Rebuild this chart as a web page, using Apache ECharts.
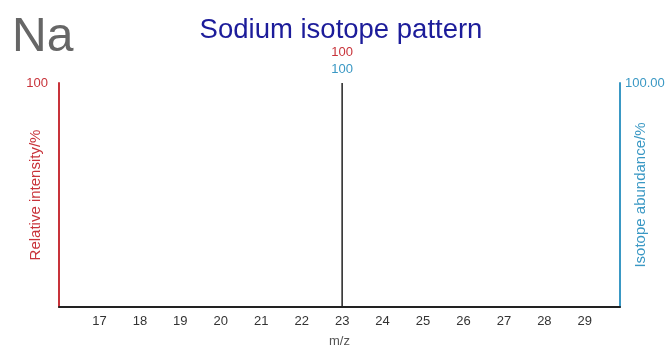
<!DOCTYPE html>
<html>
<head>
<meta charset="utf-8">
<script src="https://cdn.jsdelivr.net/npm/echarts@6/dist/echarts.min.js"></script>
<style>
  html, body { margin: 0; padding: 0; background: #fff; }
  #chart { width: 672px; height: 347px; }
</style>
</head>
<body>
<div id="chart"></div>
<script>
// Sodium: a single stable isotope, 23Na
const massNumbers = [23];
const relativeIntensity = [100];
const isotopeAbundance = [100.00];
const xTickLabels = [17, 18, 19, 20, 21, 22, 23, 24, 25, 26, 27, 28, 29];

const RED = '#c8333a';
const BLUE = '#3a98c4';
const FONT = '"Liberation Sans", Arial, sans-serif';

const peakData = massNumbers.map((m, i) => ({
  value: [m, relativeIntensity[i]],
  abundance: isotopeAbundance[i]
}));

const chart = echarts.init(document.getElementById('chart'));
chart.setOption({
  animation: false,
  textStyle: { fontFamily: FONT },
  graphic: [{
    type: 'text',
    left: 12,
    top: 14,
    style: { text: 'Na', fontSize: 48, fill: '#666666', fontFamily: FONT }
  }, {
    type: 'text',
    x: 341,
    y: 16,
    style: {
      text: 'Sodium isotope pattern',
      fontSize: 27.5,
      fill: '#1c1c9a',
      fontFamily: FONT,
      align: 'center',
      verticalAlign: 'top'
    }
  }],
  grid: { left: 59, right: 52, top: 83, bottom: 40, outerBoundsMode: 'none', containLabel: false },
  xAxis: {
    type: 'value',
    min: 16,
    max: 29.87,
    interval: 1,
    name: 'm/z',
    nameLocation: 'middle',
    nameGap: 28,
    nameMoveOverlap: false,
    nameTextStyle: { color: '#555', fontSize: 13 },
    axisLine: { lineStyle: { color: '#222', width: 2 } },
    axisTick: { show: false },
    splitLine: { show: false },
    axisLabel: {
      color: '#333',
      fontSize: 13,
      margin: 8,
      formatter: v => (xTickLabels.indexOf(v) >= 0 ? String(v) : '')
    }
  },
  yAxis: [{
    type: 'value',
    min: 0,
    max: 100,
    interval: 100,
    position: 'left',
    name: 'Relative intensity/%',
    nameLocation: 'middle',
    nameGap: 16,
    nameMoveOverlap: false,
    nameTextStyle: { color: RED, fontSize: 15 },
    axisLine: { show: true, lineStyle: { color: RED, width: 2 } },
    axisTick: { show: false },
    splitLine: { show: false },
    axisLabel: {
      color: RED, fontSize: 13, margin: 11,
      formatter: v => (v === 100 ? '100' : '')
    }
  }, {
    type: 'value',
    min: 0,
    max: 100,
    interval: 100,
    position: 'right',
    name: 'Isotope abundance/%',
    nameLocation: 'middle',
    nameGap: 13,
    nameMoveOverlap: false,
    nameTextStyle: { color: BLUE, fontSize: 15 },
    axisLine: { show: true, lineStyle: { color: BLUE, width: 2 } },
    axisTick: { show: false },
    splitLine: { show: false },
    axisLabel: {
      color: BLUE, fontSize: 13, margin: 5,
      formatter: v => (v === 100 ? v.toFixed(2) : '')
    }
  }],
  series: [{
    type: 'bar',
    yAxisIndex: 0,
    barWidth: 1.5,
    itemStyle: { color: '#222' },
    data: peakData,
    label: {
      show: true,
      position: 'top',
      distance: 5,
      formatter: p => '{r|' + p.value[1] + '}\n{b|' + p.data.abundance + '}',
      rich: {
        r: { color: RED, fontSize: 13, lineHeight: 17, fontFamily: FONT },
        b: { color: BLUE, fontSize: 13, lineHeight: 17, fontFamily: FONT }
      }
    }
  }]
});
</script>
</body>
</html>
